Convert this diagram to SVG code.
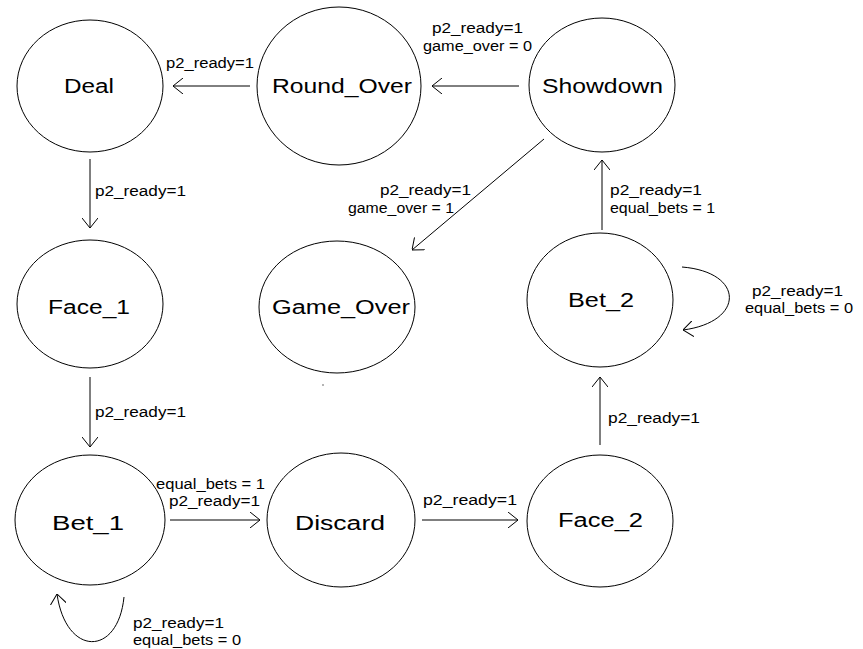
<svg xmlns="http://www.w3.org/2000/svg" width="863" height="649" viewBox="0 0 863 649">
<style>
.node ellipse{fill:none;stroke:#000;stroke-width:1}
.nl{font-family:"Liberation Sans",Arial,sans-serif;font-size:20px;fill:#000}
.el{font-family:"Liberation Sans",Arial,sans-serif;font-size:14px;fill:#000}
.edge{fill:none;stroke:#000;stroke-width:1;marker-end:url(#arr)}
</style>
<defs>
<marker id="arr" markerUnits="userSpaceOnUse" viewBox="0 0 10 16" refX="10" refY="8" markerWidth="10" markerHeight="16" orient="auto">
<path d="M0,0 L10,8 L0,16" fill="none" stroke="#000" stroke-width="1"/>
</marker>
</defs>
<rect width="863" height="649" fill="#fff"/>
<g id="Deal" class="node"><ellipse cx="90" cy="86" rx="73" ry="66"/><text class="nl" x="64" y="93" textLength="50" lengthAdjust="spacingAndGlyphs">Deal</text></g>
<g id="Round_Over" class="node"><ellipse cx="339" cy="86" rx="82" ry="79"/><text class="nl" x="272" y="93" textLength="140" lengthAdjust="spacingAndGlyphs">Round_Over</text></g>
<g id="Showdown" class="node"><ellipse cx="602" cy="85" rx="73" ry="67"/><text class="nl" x="542" y="93" textLength="121" lengthAdjust="spacingAndGlyphs">Showdown</text></g>
<g id="Face_1" class="node"><ellipse cx="90" cy="304" rx="73" ry="64"/><text class="nl" x="48" y="314" textLength="82" lengthAdjust="spacingAndGlyphs">Face_1</text></g>
<g id="Game_Over" class="node"><ellipse cx="337" cy="307" rx="78" ry="66"/><text class="nl" x="272" y="314" textLength="138" lengthAdjust="spacingAndGlyphs">Game_Over</text></g>
<g id="Bet_2" class="node"><ellipse cx="600" cy="300" rx="73" ry="67"/><text class="nl" x="568" y="307" textLength="66" lengthAdjust="spacingAndGlyphs">Bet_2</text></g>
<g id="Bet_1" class="node"><ellipse cx="90" cy="520" rx="75" ry="65"/><text class="nl" x="52" y="530" textLength="72" lengthAdjust="spacingAndGlyphs">Bet_1</text></g>
<g id="Discard" class="node"><ellipse cx="341" cy="520" rx="74" ry="67"/><text class="nl" x="295" y="530" textLength="90" lengthAdjust="spacingAndGlyphs">Discard</text></g>
<g id="Face_2" class="node"><ellipse cx="600" cy="521" rx="73" ry="66"/><text class="nl" x="558" y="527" textLength="85" lengthAdjust="spacingAndGlyphs">Face_2</text></g>
<g id="connectors">
<path class="edge" d="M519,86 L432,86"/>
<path class="edge" d="M250,86 L173,86"/>
<path class="edge" d="M90,159 L90,228"/>
<path class="edge" d="M90,377 L90,447"/>
<path class="edge" d="M170,520 L260,520"/>
<path class="edge" d="M422,520 L518,520"/>
<path class="edge" d="M600,445 L600,377"/>
<path class="edge" d="M602,230 L602,160"/>
<path class="edge" d="M544,139 L412,250"/>
<path class="edge" d="M682,267 C745,272 745,322 683,330"/>
<path class="edge" d="M124,597 C118,657 66,657 57,594"/>
</g>
<g id="labels">
<text class="el" x="166" y="68" textLength="88" lengthAdjust="spacingAndGlyphs">p2_ready=1</text>
<text class="el" x="432" y="33" textLength="91" lengthAdjust="spacingAndGlyphs">p2_ready=1</text>
<text class="el" x="423" y="51" textLength="109" lengthAdjust="spacingAndGlyphs">game_over = 0</text>
<text class="el" x="95" y="196" textLength="91" lengthAdjust="spacingAndGlyphs">p2_ready=1</text>
<text class="el" x="380" y="195" textLength="91" lengthAdjust="spacingAndGlyphs">p2_ready=1</text>
<text class="el" x="348" y="213" textLength="106" lengthAdjust="spacingAndGlyphs">game_over = 1</text>
<text class="el" x="610" y="195" textLength="92" lengthAdjust="spacingAndGlyphs">p2_ready=1</text>
<text class="el" x="610" y="213" textLength="105" lengthAdjust="spacingAndGlyphs">equal_bets = 1</text>
<text class="el" x="752" y="296" textLength="91" lengthAdjust="spacingAndGlyphs">p2_ready=1</text>
<text class="el" x="745" y="313" textLength="108" lengthAdjust="spacingAndGlyphs">equal_bets = 0</text>
<text class="el" x="95" y="417" textLength="91" lengthAdjust="spacingAndGlyphs">p2_ready=1</text>
<text class="el" x="608" y="423" textLength="92" lengthAdjust="spacingAndGlyphs">p2_ready=1</text>
<text class="el" x="156" y="489" textLength="109" lengthAdjust="spacingAndGlyphs">equal_bets = 1</text>
<text class="el" x="169" y="506" textLength="91" lengthAdjust="spacingAndGlyphs">p2_ready=1</text>
<text class="el" x="423" y="505" textLength="94" lengthAdjust="spacingAndGlyphs">p2_ready=1</text>
<text class="el" x="133" y="628" textLength="91" lengthAdjust="spacingAndGlyphs">p2_ready=1</text>
<text class="el" x="133" y="645" textLength="108" lengthAdjust="spacingAndGlyphs">equal_bets = 0</text>
</g>
<circle cx="323" cy="385" r="0.8" fill="#555"/>
</svg>
